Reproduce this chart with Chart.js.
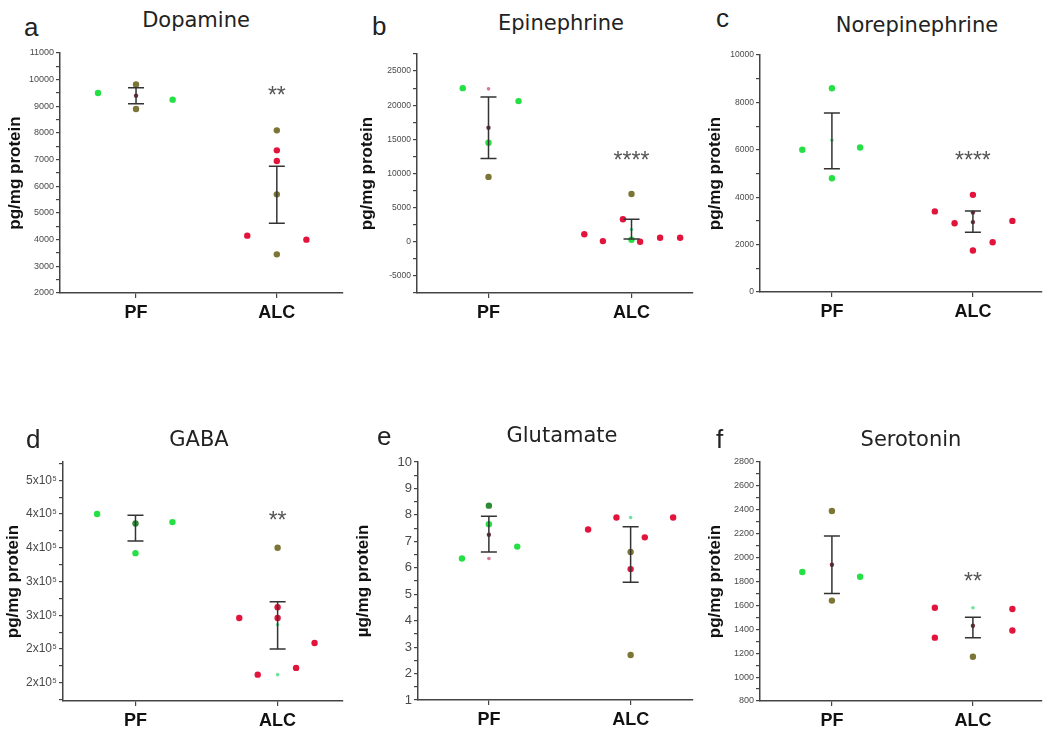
<!DOCTYPE html>
<html>
<head>
<meta charset="utf-8">
<script src="https://cdn.jsdelivr.net/npm/chart.js@4.4.1/dist/chart.umd.min.js"></script>
<style>
  body { margin: 0; width: 1050px; height: 729px; background: #fff; position: relative; overflow: hidden; font-family: "Liberation Sans", Arial, sans-serif; }
  canvas { position: absolute; }
  .txt { position: absolute; line-height: 1; white-space: nowrap; color: #222; }
  .letter { font-size: 26px; }
  .ttl { font-family: "DejaVu Sans", sans-serif; font-size: 21px; transform: translateX(-50%); }
</style>
</head>
<body>
<script>
// groups on the x axis
const categories = ['PF', 'ALC'];

// a - Dopamine
const dopamineX = [0.73, 1, 1, 1, 1.26, 2, 2, 2, 2, 1.79, 2.21, 2];
const dopamineY = [9500, 9820, 8900, 9400, 9250, 8100, 7350, 6950, 5700, 4150, 4000, 3450];
const dopamineGroup = ['green', 'olive', 'olive', 'mean', 'green', 'olive', 'red', 'red', 'olive', 'red', 'red', 'olive'];
const dopamineErr = [[9100, 9700], [4620, 6750]];
const dopamineStars = ['', '**'];
const dopamineStarY = [null, 9600];
const dopamineTicks = [2000, 3000, 4000, 5000, 6000, 7000, 8000, 9000, 10000, 11000];
const dopamineTickLabels = ['2000', '3000', '4000', '5000', '6000', '7000', '8000', '9000', '10000', '11000'];

// b - Epinephrine
const epiX = [0.82, 1, 1.21, 1, 1, 1, 2, 1.94, 2, 2, 1.67, 1.80, 2.06, 2.20, 2.34];
const epiY = [22500, 22400, 20600, 16700, 14500, 9500, 7000, 3300, 1800, 300, 1100, 100, 0, 600, 600];
const epiGroup = ['green', 'faint', 'green', 'mean', 'green', 'olive', 'olive', 'red', 'faintGreen', 'green', 'red', 'red', 'red', 'red', 'red'];
const epiErr = [[12200, 21200], [400, 3300]];
const epiStars = ['', '****'];
const epiStarY = [null, 12700];
const epiTicks = [-5000, 0, 5000, 10000, 15000, 20000, 25000];
const epiTickLabels = ['-5000', '0', '5000', '10000', '15000', '20000', '25000'];

// c - Norepinephrine
const norX = [1, 0.79, 1.20, 1, 1, 2, 1.73, 2, 2, 1.87, 2.28, 2.14, 2];
const norY = [8600, 6000, 6100, 6400, 4800, 4100, 3400, 3350, 2950, 2900, 3000, 2100, 1750];
const norGroup = ['green', 'green', 'green', 'faintGreen', 'green', 'red', 'red', 'mean', 'mean', 'red', 'red', 'red', 'red'];
const norErr = [[5200, 7550], [2520, 3420]];
const norStars = ['', '****'];
const norStarY = [null, 5800];
const norTicks = [0, 2000, 4000, 6000, 8000, 10000];
const norTickLabels = ['0', '2000', '4000', '6000', '8000', '10000'];

// d - GABA
const gabaX = [0.73, 1, 1, 1.26, 2, 2, 2, 2, 1.73, 2.26, 2.13, 1.86, 2];
const gabaY = [450000, 436000, 392000, 438000, 400000, 312000, 296000, 286000, 296000, 259000, 222000, 212000, 212000];
const gabaGroup = ['green', 'darkGreen', 'green', 'green', 'olive', 'red', 'red', 'faintGreen', 'red', 'red', 'red', 'red', 'faintGreen'];
const gabaErr = [[410000, 448000], [250000, 320000]];
const gabaStars = ['', '**'];
const gabaStarY = [null, 448000];
const gabaTicks = [200000, 250000, 300000, 350000, 400000, 450000, 500000];
const gabaTickLabels = ['2x10\u2075', '2x10\u2075', '3x10\u2075', '3x10\u2075', '4x10\u2075', '4x10\u2075', '5x10\u2075'];

// e - Glutamate
const gluX = [0.81, 1, 1, 1, 1, 1.20, 1.70, 1.90, 2, 2.10, 2.30, 2, 2, 2];
const gluY = [6.35, 8.35, 7.65, 7.25, 6.35, 6.8, 7.45, 7.9, 7.9, 7.15, 7.9, 6.6, 5.95, 2.7];
const gluGroup = ['green', 'darkGreen', 'green', 'mean', 'faint', 'green', 'red', 'red', 'faintGreen', 'red', 'red', 'olive', 'red', 'olive'];
const gluErr = [[6.6, 7.95], [5.45, 7.55]];
const gluStars = ['', ''];
const gluStarY = [null, null];
const gluTicks = [1, 2, 3, 4, 5, 6, 7, 8, 9, 10];
const gluTickLabels = ['1', '2', '3', '4', '5', '6', '7', '8', '9', '10'];

// f - Serotonin
const seroX = [1, 0.79, 1.20, 1, 1, 1.73, 1.73, 2, 2, 2, 2.28, 2.28];
const seroY = [2390, 1880, 1840, 1940, 1640, 1580, 1330, 1580, 1430, 1170, 1570, 1390];
const seroGroup = ['olive', 'green', 'green', 'mean', 'olive', 'red', 'red', 'faintGreen', 'mean', 'olive', 'red', 'red'];
const seroErr = [[1700, 2180], [1330, 1500]];
const seroStars = ['', '**'];
const seroStarY = [null, 1850];
const seroTicks = [800, 1000, 1200, 1400, 1600, 1800, 2000, 2200, 2400, 2600, 2800];
const seroTickLabels = ['800', '1000', '1200', '1400', '1600', '1800', '2000', '2200', '2400', '2600', '2800'];

// marker look per group
const groupStyle = {
    green: { color: '#25e045', r: 3.2 },
    darkGreen: { color: '#2f8a35', r: 3.2 },
    olive: { color: '#7c7636', r: 3.2 },
    red: { color: '#e2143c', r: 3.2 },
    mean: { color: '#7a2a38', r: 2.2 },
    faint: { color: '#d9779a', r: 1.8 },
    faintGreen: { color: '#6fe39a', r: 1.8 }
};

// draws the error bars and the significance stars
const marksPlugin = {
    id: 'marks',
    afterDatasetsDraw(chart, args, opts) {
        const ctx = chart.ctx;
        const xs = chart.scales.x, ys = chart.scales.y;
        ctx.save();
        ctx.strokeStyle = '#333';
        ctx.lineWidth = 1.5;
        opts.err.forEach((e, i) => {
            const px = xs.getPixelForValue(i + 1);
            const y0 = ys.getPixelForValue(e[0]);
            const y1 = ys.getPixelForValue(e[1]);
            ctx.beginPath();
            ctx.moveTo(px, y0); ctx.lineTo(px, y1);
            ctx.moveTo(px - 8, y0); ctx.lineTo(px + 8, y0);
            ctx.moveTo(px - 8, y1); ctx.lineTo(px + 8, y1);
            ctx.stroke();
        });
        ctx.fillStyle = '#555';
        ctx.font = '23px "Liberation Sans"';
        ctx.textAlign = 'center';
        ctx.textBaseline = 'alphabetic';
        opts.stars.forEach((s, i) => {
            if (!s) return;
            ctx.fillText(s, xs.getPixelForValue(i + 1), ys.getPixelForValue(opts.starY[i]) + 13);
        });
        ctx.restore();
    }
};

function addText(cls, text, left, baseline, size) {
    const d = document.createElement('div');
    d.className = 'txt ' + cls;
    d.textContent = text;
    d.style.left = left + 'px';
    d.style.top = (baseline - 0.846 * size) + 'px';
    document.body.appendChild(d);
}

function makePanel(p) {
    // p.l/t/r/b = chart area in page pixels
    const left = p.l - p.yw;
    const top = p.t - 10;
    const canvas = document.createElement('canvas');
    canvas.width = p.r + 6 - left;
    canvas.height = p.b + 32 - top;
    canvas.style.left = left + 'px';
    canvas.style.top = top + 'px';
    document.body.appendChild(canvas);

    const names = [...new Set(p.group)];
    const datasets = names.map(g => ({
        data: p.xs.map((x, i) => ({ x: x, y: p.ys[i], g: p.group[i] })).filter(d => d.g === g),
        backgroundColor: groupStyle[g].color,
        borderColor: groupStyle[g].color,
        pointRadius: groupStyle[g].r,
        borderWidth: 0
    }));

    new Chart(canvas, {
        type: 'scatter',
        data: { datasets: datasets },
        options: {
            responsive: false,
            animation: false,
            layout: { padding: { top: 10, right: 6, left: 0, bottom: 0 } },
            plugins: {
                legend: { display: false },
                tooltip: { enabled: false },
                marks: { err: p.err, stars: p.stars, starY: p.starY }
            },
            scales: {
                x: {
                    type: 'linear',
                    min: p.xMin,
                    max: p.xMax,
                    afterBuildTicks: s => { s.ticks = categories.map((c, i) => ({ value: i + 1 })); },
                    afterFit: s => { s.height = 32; },
                    ticks: {
                        callback: v => categories[v - 1],
                        font: { family: 'Liberation Sans', size: 18, weight: 'bold' },
                        color: '#111',
                        padding: 4,
                        maxRotation: 0,
                        autoSkip: false
                    },
                    grid: { drawOnChartArea: false, tickLength: 5, color: '#444', lineWidth: 1.2 },
                    border: { color: '#444', width: 1.5 }
                },
                y: {
                    min: p.yMin,
                    max: p.yMax,
                    afterBuildTicks: s => {
                        const t = [];
                        for (let v = Math.ceil(p.yMin / p.step) * p.step; v <= p.yMax + 1e-9; v += p.step) {
                            t.push({ value: +v.toFixed(6) });
                        }
                        s.ticks = t;
                    },
                    afterFit: s => { s.width = p.yw; },
                    ticks: {
                        callback: v => {
                            const k = p.ticks.indexOf(v);
                            return k < 0 ? '' : p.labels[k];
                        },
                        font: { family: 'Liberation Sans', size: p.tickSize },
                        color: '#4a4a4a',
                        padding: 2,
                        autoSkip: false
                    },
                    grid: { drawOnChartArea: false, tickLength: 4, color: '#444', lineWidth: 1.2 },
                    border: { color: '#444', width: 1.5 },
                    title: {
                        display: true,
                        text: p.yTitle,
                        font: { family: 'Liberation Sans', size: 17, weight: 'bold' },
                        color: '#111',
                        padding: { top: p.titlePad, bottom: 0 }
                    }
                }
            }
        },
        plugins: [marksPlugin]
    });

    addText('letter', p.letter, p.letterX, p.letterBase, 26);
    addText('ttl', p.title, p.titleX, p.titleBase, 21);
}

window.onload = function () {
    makePanel({ l: 60, t: 53, r: 343, b: 293, yw: 60, titlePad: 5, tickSize: 9,
        xMin: 0.46, xMax: 2.47, yMin: 2000, yMax: 11000, step: 500,
        xs: dopamineX, ys: dopamineY, group: dopamineGroup, err: dopamineErr,
        stars: dopamineStars, starY: dopamineStarY, ticks: dopamineTicks, labels: dopamineTickLabels,
        yTitle: 'pg/mg protein', letter: 'a', letterX: 24, letterBase: 36, title: 'Dopamine', titleX: 196, titleBase: 28 });

    makePanel({ l: 417, t: 54, r: 693, b: 293, yw: 67, titlePad: 7, tickSize: 8.5,
        xMin: 0.50, xMax: 2.43, yMin: -7500, yMax: 27500, step: 2500,
        xs: epiX, ys: epiY, group: epiGroup, err: epiErr,
        stars: epiStars, starY: epiStarY, ticks: epiTicks, labels: epiTickLabels,
        yTitle: 'pg/mg protein', letter: 'b', letterX: 372, letterBase: 35, title: 'Epinephrine', titleX: 561, titleBase: 31 });

    makePanel({ l: 760, t: 55, r: 1042, b: 292, yw: 60, titlePad: 5, tickSize: 8.5,
        xMin: 0.49, xMax: 2.49, yMin: 0, yMax: 10000, step: 1000,
        xs: norX, ys: norY, group: norGroup, err: norErr,
        stars: norStars, starY: norStarY, ticks: norTicks, labels: norTickLabels,
        yTitle: 'pg/mg protein', letter: 'c', letterX: 716, letterBase: 27, title: 'Norepinephrine', titleX: 917, titleBase: 33 });

    makePanel({ l: 63, t: 462, r: 343, b: 701, yw: 63, titlePad: 3, tickSize: 12,
        xMin: 0.49, xMax: 2.46, yMin: 173000, yMax: 527000, step: 25000,
        xs: gabaX, ys: gabaY, group: gabaGroup, err: gabaErr,
        stars: gabaStars, starY: gabaStarY, ticks: gabaTicks, labels: gabaTickLabels,
        yTitle: 'pg/mg protein', letter: 'd', letterX: 26, letterBase: 448, title: 'GABA', titleX: 199, titleBase: 447 });

    makePanel({ l: 418, t: 462, r: 693, b: 700, yw: 68, titlePad: 3, tickSize: 13,
        xMin: 0.50, xMax: 2.44, yMin: 1, yMax: 10, step: 0.5,
        xs: gluX, ys: gluY, group: gluGroup, err: gluErr,
        stars: gluStars, starY: gluStarY, ticks: gluTicks, labels: gluTickLabels,
        yTitle: '\u00b5g/mg protein', letter: 'e', letterX: 377, letterBase: 445, title: 'Glutamate', titleX: 562, titleBase: 443 });

    makePanel({ l: 760, t: 462, r: 1042, b: 701, yw: 60, titlePad: 5, tickSize: 9,
        xMin: 0.49, xMax: 2.49, yMin: 800, yMax: 2800, step: 100,
        xs: seroX, ys: seroY, group: seroGroup, err: seroErr,
        stars: seroStars, starY: seroStarY, ticks: seroTicks, labels: seroTickLabels,
        yTitle: 'pg/mg protein', letter: 'f', letterX: 716, letterBase: 448, title: 'Serotonin', titleX: 911, titleBase: 447 });
};
</script>
</body>
</html>
